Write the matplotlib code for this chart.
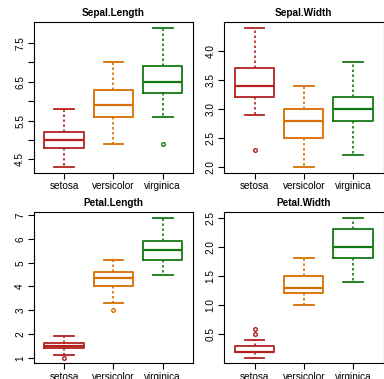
import matplotlib
matplotlib.use("Agg")
import matplotlib.pyplot as plt

plt.rcParams["font.family"] = ["Liberation Sans", "DejaVu Sans"]

species = ["setosa", "versicolor", "virginica"]
colors = ["#B22222", "#D86E00", "#137A13"]

# five-number summaries per species: [whislo, q1, med, q3, whishi]
sepal_length = [[4.3, 4.8, 5.0, 5.2, 5.8],
                [4.9, 5.6, 5.9, 6.3, 7.0],
                [5.6, 6.2, 6.5, 6.9, 7.9]]
sepal_length_out = [[], [], [4.9]]

sepal_width = [[2.9, 3.2, 3.4, 3.7, 4.4],
               [2.0, 2.5, 2.8, 3.0, 3.4],
               [2.2, 2.8, 3.0, 3.2, 3.8]]
sepal_width_out = [[2.3], [], []]

petal_length = [[1.1, 1.4, 1.5, 1.6, 1.9],
                [3.3, 4.0, 4.35, 4.6, 5.1],
                [4.5, 5.1, 5.55, 5.9, 6.9]]
petal_length_out = [[1.0], [3.0], []]

petal_width = [[0.1, 0.2, 0.2, 0.3, 0.4],
               [1.0, 1.2, 1.3, 1.5, 1.8],
               [1.4, 1.8, 2.0, 2.3, 2.5]]
petal_width_out = [[0.5, 0.6], [], []]

panels = [
    ("Sepal.Length", sepal_length, sepal_length_out,
     [4.5, 5.0, 5.5, 6.0, 6.5, 7.0, 7.5], ["4.5", "", "5.5", "", "6.5", "", "7.5"]),
    ("Sepal.Width", sepal_width, sepal_width_out,
     [2.0, 2.5, 3.0, 3.5, 4.0], ["2.0", "2.5", "3.0", "3.5", "4.0"]),
    ("Petal.Length", petal_length, petal_length_out,
     [1, 2, 3, 4, 5, 6, 7], ["1", "2", "3", "4", "5", "6", "7"]),
    ("Petal.Width", petal_width, petal_width_out,
     [0.5, 1.0, 1.5, 2.0, 2.5], ["0.5", "1.0", "1.5", "2.0", "2.5"]),
]

W, H = 384, 379
# pixel boxes: left, top, right, bottom
boxes = [(33.5, 22, 193.3, 172.7), (224, 22, 383.5, 172.7),
         (33.5, 212, 193.3, 363.3), (224, 212, 383.5, 363.3)]

fig = plt.figure(figsize=(W / 100, H / 100), dpi=100)

for (title, summ, outl, ticks, tlabels), (l, t, r, b) in zip(panels, boxes):
    ax = fig.add_axes([l / W, 1 - b / H, (r - l) / W, (b - t) / H])
    for i, (s, o, c) in enumerate(zip(summ, outl, colors)):
        st = dict(whislo=s[0], q1=s[1], med=s[2], q3=s[3], whishi=s[4], fliers=o)
        ax.bxp([st], positions=[i + 1], widths=0.8, showfliers=True,
               boxprops=dict(color=c, linewidth=1.3),
               medianprops=dict(color=c, linewidth=1.6),
               whiskerprops=dict(color=c, linewidth=1.2, linestyle=(0, (1.5, 1.5))),
               capprops=dict(color=c, linewidth=1.3),
               capwidths=0.4,
               flierprops=dict(marker="o", markersize=2.6, markerfacecolor="none",
                               markeredgecolor=c, markeredgewidth=1.0))
    lo = min(min(s[0] for s in summ), min([v for o in outl for v in o] or [99]))
    hi = max(max(s[4] for s in summ), max([v for o in outl for v in o] or [-99]))
    ext = (hi - lo) * 0.04
    ax.set_ylim(lo - ext, hi + ext)
    ax.set_xlim(0.5 - 0.12, 3.5 + 0.12)
    ax.set_xticks([1, 2, 3])
    ax.set_xticklabels(species, fontsize=7.2)
    ax.set_yticks(ticks)
    ax.set_yticklabels(tlabels, fontsize=7.2, rotation=90, va="center")
    ax.tick_params(length=4, width=0.8, pad=2)
    ax.tick_params(axis="y", pad=2)
    for sp in ax.spines.values():
        sp.set_linewidth(0.8)
    ax.set_title(title, fontsize=7.2, fontweight="bold", pad=4)

fig.savefig("out.png", dpi=100)
